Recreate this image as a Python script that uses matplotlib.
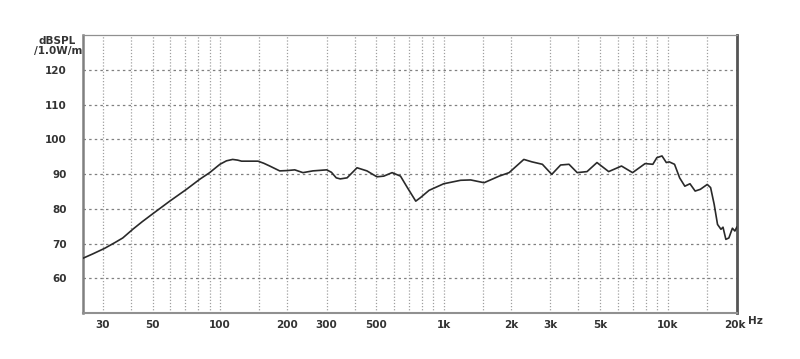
import numpy as np
import matplotlib
matplotlib.use('Agg')
import matplotlib.pyplot as plt

# frequency response
freq = [24.5, 27, 30.5, 34, 36.8, 40.8, 45, 50.2, 59.7, 70.9, 81.3, 90, 100,
        107, 114, 120, 125, 148, 157, 167, 185, 200, 216, 235, 260, 300, 315,
        331, 345, 370, 410, 454, 503, 540, 588, 641, 688, 750, 787, 860, 1000,
        1190, 1320, 1515, 1770, 1960, 2280, 2480, 2760, 3040, 3330, 3630, 3950,
        4370, 4840, 5460, 6230, 6980, 7940, 8600, 8960, 9450, 9880, 10180,
        10750, 11330, 11950, 12600, 13290, 14020, 15050, 15580, 16160, 16730,
        17330, 17700, 18230, 18800, 19500, 20000, 20400]
spl = [65.8, 67.0, 68.6, 70.3, 71.6, 74.1, 76.3, 78.6, 82.2, 85.6, 88.5, 90.4, 92.8,
       93.8, 94.2, 94.0, 93.7, 93.7, 93.1, 92.3, 90.9, 91.0, 91.2, 90.4, 90.9, 91.2, 90.5,
       88.9, 88.6, 88.9, 91.8, 90.9, 89.2, 89.4, 90.4, 89.4, 86.1, 82.2, 83.2, 85.3, 87.2,
       88.2, 88.3, 87.5, 89.4, 90.4, 94.2, 93.5, 92.8, 89.9, 92.6, 92.8, 90.4,
       90.7, 93.3, 90.7, 92.3, 90.4, 93.0, 92.8, 94.7, 95.2, 93.3, 93.5,
       92.8, 88.9, 86.5, 87.2, 85.1, 85.6, 87.0, 86.1, 81.3, 75.5,
       74.1, 74.7, 71.2, 71.6, 74.4, 73.6, 74.7]

grid_freqs = [30, 40, 50, 60, 70, 80, 90, 100, 150, 200, 300, 400, 500, 600, 700,
              800, 900, 1000, 1500, 2000, 3000, 4000, 5000, 6000, 7000, 8000,
              9000, 10000, 15000]
xtick_vals = [30, 50, 100, 200, 300, 500, 1000, 2000, 3000, 5000, 10000, 20000]
xtick_labels = ['30', '50', '100', '200', '300', '500', '1k', '2k', '3k', '5k', '10k', '20k']
ytick_vals = [60, 70, 80, 90, 100, 110, 120]

fig = plt.figure(figsize=(8, 3.59), dpi=100, facecolor='w')
ax = fig.add_axes([0.104, 0.128, 0.817, 0.7745])

ax.set_xscale('log')
ax.set_xlim(24.5, 20400)
ax.set_ylim(50, 130)

for f in grid_freqs:
    ax.axvline(f, color='#a0a0a0', linewidth=0.9, linestyle=(0, (1, 1.5)), zorder=1)
for v in ytick_vals:
    ax.axhline(v, color='#808080', linewidth=0.9, linestyle=(0, (2, 2.5)), zorder=1)

ax.plot(freq, spl, color='#2a2a2a', linewidth=1.2, zorder=3)

ax.set_xticks(xtick_vals)
ax.set_xticklabels(xtick_labels)
ax.xaxis.set_minor_locator(matplotlib.ticker.NullLocator())
ax.set_yticks(ytick_vals)
ax.tick_params(length=0, labelsize=7.5, labelcolor='#333333')
ax.tick_params(axis='y', pad=12)
ax.tick_params(axis='x', pad=5)
for lab in ax.get_xticklabels() + ax.get_yticklabels():
    lab.set_fontweight('bold')

ax.spines['left'].set_color('#808080')
ax.spines['left'].set_linewidth(1.8)
ax.spines['bottom'].set_color('#909090')
ax.spines['bottom'].set_linewidth(1.5)
ax.spines['right'].set_color('#555555')
ax.spines['right'].set_linewidth(2.0)
ax.spines['top'].set_color('#909090')
ax.spines['top'].set_linewidth(0.9)

fig.text(0.072, 0.887, 'dBSPL', fontsize=7.5, fontweight='bold', color='#333333',
         ha='center', va='center')
fig.text(0.103, 0.858, '/1.0W/m', fontsize=7.5, fontweight='bold', color='#333333',
         ha='right', va='center')
fig.text(0.935, 0.106, 'Hz', fontsize=7.5, fontweight='bold', color='#333333',
         ha='left', va='center')

plt.savefig('out.png', dpi=100)
